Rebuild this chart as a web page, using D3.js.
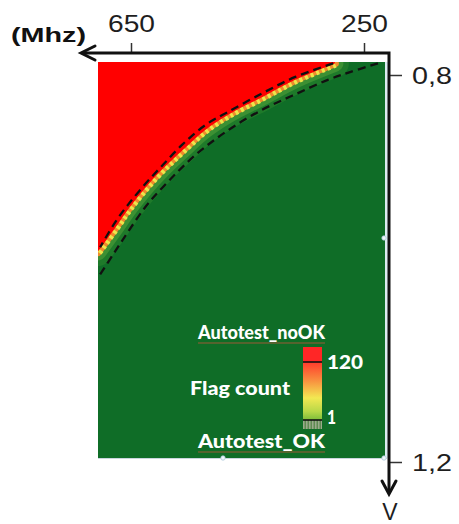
<!DOCTYPE html>
<html>
<head>
<meta charset="utf-8">
<script src="https://cdn.jsdelivr.net/npm/d3@7"></script>
<style>
  html, body { margin: 0; padding: 0; background: #ffffff; }
  svg { display: block; }
</style>
</head>
<body>
<script>
// ---------------- DATA ----------------
const freqTicks = [650, 250];          // MHz, top axis (frequency decreases to the right)
const voltTicks = [0.8, 1.2];          // V, right axis (voltage increases downward)

// pass/fail boundary (red region lies above this curve)
const edgeFreq = [300, 368, 425, 483, 523, 562, 597, 626, 655, 677, 707];
const edgeVolt = [0.788, 0.805, 0.823, 0.841, 0.857, 0.878, 0.898, 0.917, 0.939, 0.958, 0.983];

// upper dashed guide line
const upperDashFreq = [303, 368, 425, 483, 523, 562, 597, 626, 655, 677, 703];
const upperDashVolt = [0.788, 0.802, 0.819, 0.838, 0.852, 0.872, 0.894, 0.913, 0.934, 0.952, 0.978];

// lower dashed guide line
const lowerDashFreq = [226, 274, 312, 368, 425, 483, 540, 597, 626, 655, 677, 705];
const lowerDashVolt = [0.788, 0.797, 0.805, 0.820, 0.836, 0.857, 0.883, 0.917, 0.937, 0.962, 0.982, 1.008];

// flag-count colour bar
const flagTicks = [120, 1];
const legendTitles = ["Autotest_noOK", "Flag count", "Autotest_OK"];
const unitLabel = "(Mhz)";
const voltLabel = "V";

// ---------------- LAYOUT ----------------
const W = 459, H = 524;
const plot = { x0: 98, x1: 385, y0: 62, y1: 458 };
const axisY = 53, axisX = 389;

const RED = "#ff0000", GREEN = "#0f6d27";

const x = d3.scaleLinear().domain([650, 250]).range([131, 364]);
const y = d3.scaleLinear().domain([0.8, 1.2]).range([75, 462]);
const flagScale = d3.scaleLinear().domain([1, 120]).range([420, 362]);

const edge = edgeFreq.map((f, i) => ({ f, v: edgeVolt[i] }));
const upperDash = upperDashFreq.map((f, i) => ({ f, v: upperDashVolt[i] }));
const lowerDash = lowerDashFreq.map((f, i) => ({ f, v: lowerDashVolt[i] }));

const svg = d3.select("body").append("svg").attr("width", W).attr("height", H);
const defs = svg.append("defs");

defs.append("clipPath").attr("id", "plotClip")
  .append("rect")
  .attr("x", plot.x0).attr("y", plot.y0)
  .attr("width", plot.x1 - plot.x0).attr("height", plot.y1 - plot.y0);

const grad = defs.append("linearGradient").attr("id", "flagGrad")
  .attr("x1", 0).attr("y1", 0).attr("x2", 0).attr("y2", 1);
[["0%", "#ff3a2c"], ["30%", "#f98a3e"], ["62%", "#f2e852"], ["85%", "#b9d848"], ["100%", "#7cbd3a"]]
  .forEach(([o, c]) => grad.append("stop").attr("offset", o).attr("stop-color", c));

const hatch = defs.append("pattern").attr("id", "hatch")
  .attr("patternUnits", "userSpaceOnUse").attr("width", 3).attr("height", 4);
hatch.append("rect").attr("width", 3).attr("height", 4).attr("fill", "#5f8a52");
hatch.append("rect").attr("width", 1.5).attr("height", 4).attr("fill", "#9aaa8c");

// ---------------- HEAT MAP ----------------
const gPlot = svg.append("g").attr("clip-path", "url(#plotClip)");
gPlot.append("rect")
  .attr("x", plot.x0).attr("y", plot.y0)
  .attr("width", plot.x1 - plot.x0).attr("height", plot.y1 - plot.y0)
  .attr("fill", GREEN);

const curve = d3.curveCatmullRom.alpha(0.5);
const lineGen = d3.line().x(d => x(d.f)).y(d => y(d.v)).curve(curve);
const areaGen = d3.area().x(d => x(d.f)).y0(plot.y0 - 5).y1(d => y(d.v)).curve(curve);

// transition bands along the boundary (half is hidden under the red area)
[[28, "#3c9331", 0.35, null], [17, "#5aa53b", 0.5, null], [8, "#ee8c2c", 1, null], [9, "#eee64a", 1, "3,3"]]
  .forEach(([w, c, o, dash]) => {
    gPlot.append("path").datum(edge)
      .attr("d", lineGen)
      .attr("fill", "none")
      .attr("stroke", c)
      .attr("stroke-opacity", o)
      .attr("stroke-width", w)
      .attr("stroke-linecap", dash ? "butt" : "round")
      .attr("stroke-dasharray", dash);
  });

gPlot.append("path").datum(edge).attr("d", areaGen).attr("fill", RED);

[upperDash, lowerDash].forEach(data => {
  gPlot.append("path").datum(data)
    .attr("d", lineGen)
    .attr("fill", "none")
    .attr("stroke", "#111")
    .attr("stroke-width", 2.3)
    .attr("stroke-dasharray", "8,5");
});

// light frame of the picture
svg.append("rect").attr("x", plot.x1).attr("y", plot.y0)
  .attr("width", 3).attr("height", plot.y1 - plot.y0).attr("fill", "#dcebf2");
svg.append("line").attr("x1", plot.x0).attr("x2", plot.x1 + 2)
  .attr("y1", plot.y1 + 0.5).attr("y2", plot.y1 + 0.5)
  .attr("stroke", "#c9d6de").attr("stroke-width", 1);
[[plot.x1 - 1, 238], [223, plot.y1], [plot.x1 - 1, plot.y1]]
  .forEach(([cx, cy]) => svg.append("circle").attr("cx", cx).attr("cy", cy).attr("r", 2.2)
    .attr("fill", "#eef6fb").attr("stroke", "#a9c6d8").attr("stroke-width", 0.8));

// ---------------- AXES ----------------
const tickFont = "'Liberation Sans', Arial, sans-serif";

const topAxis = svg.append("g").attr("transform", `translate(0,${axisY})`)
  .call(d3.axisTop(x).tickValues(freqTicks).tickSize(10).tickFormat(d3.format("d")));
topAxis.select(".domain").remove();
topAxis.selectAll(".tick line").attr("stroke", "#333").attr("stroke-width", 1.5);
topAxis.selectAll(".tick text")
  .attr("y", -21).attr("dy", 0)
  .attr("font-family", tickFont).attr("font-size", 23).attr("fill", "#1e1e1e")
  .attr("textLength", 47).attr("lengthAdjust", "spacingAndGlyphs");

const rightAxis = svg.append("g").attr("transform", `translate(${axisX},0)`)
  .call(d3.axisRight(y).tickValues(voltTicks).tickSize(13)
    .tickFormat(d => d.toFixed(1).replace(".", ",")));
rightAxis.select(".domain").remove();
rightAxis.selectAll(".tick line").attr("stroke", "#333").attr("stroke-width", 1.5);
rightAxis.selectAll(".tick text")
  .attr("x", 23).attr("dy", "0.37em")
  .attr("font-family", tickFont).attr("font-size", 24).attr("fill", "#1e1e1e")
  .attr("textLength", 40).attr("lengthAdjust", "spacingAndGlyphs");

// arrow axes
svg.append("path")
  .attr("d", `M82,${axisY} H${axisX} V492`)
  .attr("fill", "none").attr("stroke", "#111").attr("stroke-width", 3)
  .attr("stroke-linejoin", "miter");
svg.append("path")
  .attr("d", `M95,${axisY - 7} L81,${axisY} L95,${axisY + 7}`)
  .attr("fill", "none").attr("stroke", "#111").attr("stroke-width", 3)
  .attr("stroke-linejoin", "miter").attr("stroke-linecap", "round");
svg.append("path")
  .attr("d", `M${axisX - 7},481 L${axisX},494 L${axisX + 7},481`)
  .attr("fill", "none").attr("stroke", "#111").attr("stroke-width", 3)
  .attr("stroke-linejoin", "miter").attr("stroke-linecap", "round");

svg.append("text").attr("x", 11).attr("y", 42)
  .attr("font-family", tickFont).attr("font-weight", "bold").attr("font-size", 21)
  .attr("fill", "#111").attr("textLength", 75).attr("lengthAdjust", "spacingAndGlyphs")
  .text(unitLabel);

svg.append("text").attr("x", axisX + 1).attr("y", 520).attr("text-anchor", "middle")
  .attr("font-family", tickFont).attr("font-size", 23).attr("fill", "#1e1e1e")
  .text(voltLabel);

// ---------------- LEGEND ----------------
const legFont = "Lato, 'Open Sans', sans-serif";
const lg = svg.append("g");
const barX = 303, barW = 19;

lg.append("rect").attr("x", barX).attr("y", 347).attr("width", barW)
  .attr("height", flagScale(120) - 347).attr("fill", "#ff2626");
lg.append("rect").attr("x", barX).attr("y", flagScale(120)).attr("width", barW)
  .attr("height", flagScale(1) - flagScale(120)).attr("fill", "url(#flagGrad)");
lg.append("rect").attr("x", barX).attr("y", flagScale(1)).attr("width", barW)
  .attr("height", 9).attr("fill", "url(#hatch)");
flagTicks.forEach(v => {
  lg.append("line").attr("x1", barX).attr("x2", barX + barW)
    .attr("y1", flagScale(v)).attr("y2", flagScale(v))
    .attr("stroke", "#111").attr("stroke-width", 1.6);
  lg.append("text").attr("x", 327).attr("y", flagScale(v) + (v === 120 ? 7 : 4))
    .attr("font-family", legFont).attr("font-weight", 900).attr("font-size", 19)
    .attr("fill", "#fff")
    .attr("textLength", v === 120 ? 36 : 9).attr("lengthAdjust", "spacingAndGlyphs")
    .text(v);
});

const titlePos = [[198, 339, 127], [190, 395, 100], [198, 448, 127]];
legendTitles.forEach((t, i) => {
  const [tx, ty, tl] = titlePos[i];
  lg.append("text").attr("x", tx).attr("y", ty)
    .attr("font-family", legFont).attr("font-weight", 900).attr("font-size", 19)
    .attr("fill", "#fff").attr("textLength", tl).attr("lengthAdjust", "spacingAndGlyphs")
    .text(t);
  if (i !== 1) {
    lg.append("line").attr("x1", tx).attr("x2", tx + tl)
      .attr("y1", ty + 4).attr("y2", ty + 4)
      .attr("stroke", "#b5573a").attr("stroke-width", 1.2).attr("stroke-opacity", 0.85);
  }
});
</script>
</body>
</html>
